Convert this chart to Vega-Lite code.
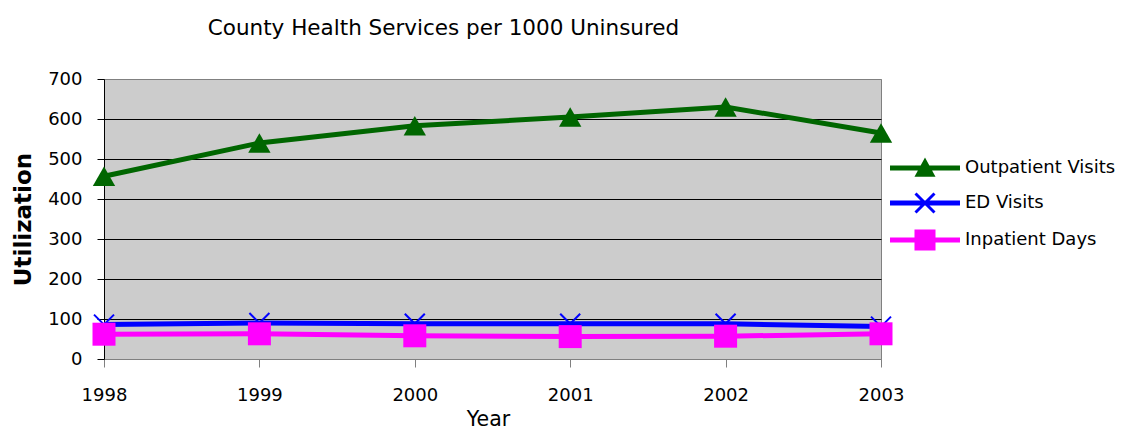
{
  "$schema": "https://vega.github.io/schema/vega-lite/v6.json",
  "width": 777,
  "height": 280,
  "autosize": "none",
  "padding": {"left": 104, "top": 79, "right": 242, "bottom": 70},
  "background": "white",
  "config": {
    "view": {"fill": "#CCCCCC", "stroke": "#808080", "strokeWidth": 1}
  },
  "title": {
    "text": "County Health Services per 1000 Uninsured",
    "font": "DejaVu Sans",
    "fontSize": 21.5,
    "fontWeight": "normal",
    "color": "black",
    "anchor": "middle",
    "frame": "group",
    "dx": -49,
    "baseline": "alphabetic",
    "offset": 14
  },
  "data": {
    "values": [
      {"year": 1998, "series": "Outpatient Visits", "value": 457},
      {"year": 1999, "series": "Outpatient Visits", "value": 540},
      {"year": 2000, "series": "Outpatient Visits", "value": 583},
      {"year": 2001, "series": "Outpatient Visits", "value": 605},
      {"year": 2002, "series": "Outpatient Visits", "value": 630},
      {"year": 2003, "series": "Outpatient Visits", "value": 565},
      {"year": 1998, "series": "ED Visits", "value": 86},
      {"year": 1999, "series": "ED Visits", "value": 90},
      {"year": 2000, "series": "ED Visits", "value": 88},
      {"year": 2001, "series": "ED Visits", "value": 88},
      {"year": 2002, "series": "ED Visits", "value": 88},
      {"year": 2003, "series": "ED Visits", "value": 81},
      {"year": 1998, "series": "Inpatient Days", "value": 62},
      {"year": 1999, "series": "Inpatient Days", "value": 63},
      {"year": 2000, "series": "Inpatient Days", "value": 58},
      {"year": 2001, "series": "Inpatient Days", "value": 56},
      {"year": 2002, "series": "Inpatient Days", "value": 57},
      {"year": 2003, "series": "Inpatient Days", "value": 63}
    ]
  },
  "encoding": {
    "x": {
      "field": "year",
      "type": "quantitative",
      "scale": {"domain": [1998, 2003], "nice": false, "zero": false},
      "axis": {
        "values": [1998, 1999, 2000, 2001, 2002, 2003],
        "format": "d",
        "grid": false,
        "labelFont": "DejaVu Sans",
        "labelFontSize": 18,
        "labelColor": "black",
        "labelPadding": 19,
        "labelFlush": false,
        "tickSize": 8,
        "tickColor": "#808080",
        "domainColor": "#808080",
        "title": "Year",
        "titleFont": "DejaVu Sans",
        "titleFontSize": 20.5,
        "titleFontWeight": "normal",
        "titleColor": "black",
        "titleBaseline": "alphabetic",
        "titleX": 384,
        "titleY": 66
      }
    },
    "y": {
      "field": "value",
      "type": "quantitative",
      "scale": {"domain": [0, 700], "nice": false},
      "axis": {
        "values": [0, 100, 200, 300, 400, 500, 600, 700],
        "grid": true,
        "gridColor": {"condition": {"test": "datum.value === 700 || datum.value === 0", "value": "#808080"}, "value": "black"},
        "gridWidth": 1,
        "gridOpacity": 1,
        "labelFont": "DejaVu Sans",
        "labelFontSize": 18,
        "labelColor": "black",
        "labelPadding": 15,
        "labelFlush": false,
        "tickSize": 7,
        "tickColor": "black",
        "domainColor": "black",
        "title": "Utilization",
        "titleFont": "DejaVu Sans",
        "titleFontSize": 23,
        "titleFontWeight": "bold",
        "titleColor": "black",
        "titleBaseline": "alphabetic",
        "titleX": -74
      }
    },
    "color": {
      "field": "series",
      "type": "nominal",
      "scale": {
        "domain": ["Outpatient Visits", "ED Visits", "Inpatient Days"],
        "range": ["#006600", "#0000FF", "#FF00FF"]
      },
      "legend": null
    }
  },
  "layer": [
    {
      "mark": {"type": "line", "strokeWidth": 5},
      "encoding": {
        "color": {
          "field": "series",
          "type": "nominal",
          "legend": {
            "title": null,
            "orient": "none",
            "legendX": 795,
            "legendY": 63,
            "symbolSize": 2704,
            "rowPadding": 0,
            "labelOffset": 14,
            "labelFont": "DejaVu Sans",
            "labelFontSize": 18,
            "labelColor": "black",
            "labelLimit": 300,
            "encode": {
              "symbols": {
                "update": {
                  "shape": {"signal": "datum.value === 'Outpatient Visits' ? 'M-1.346,-0.096H1.346V0.096H-1.346Z M0,-0.404L0.404,0.337H-0.404Z' : datum.value === 'ED Visits' ? 'M-1.346,-0.096H1.346V0.096H-1.346Z M-0.325,-0.405L0.405,0.325L0.325,0.405L-0.405,-0.325Z M0.405,-0.325L-0.325,0.405L-0.405,0.325L0.325,-0.405Z' : 'M-1.346,-0.096H1.346V0.096H-1.346Z M-0.404,-0.404H0.404V0.404H-0.404Z'"},
                  "fill": {"signal": "scale('color', datum.value)"},
                  "fillOpacity": {"value": 1},
                  "stroke": {"value": "transparent"},
                  "strokeWidth": {"value": 0}
                }
              }
            }
          }
        }
      }
    },
    {
      "transform": [{"filter": "datum.series === 'ED Visits'"}],
      "mark": {"type": "point", "filled": false, "strokeWidth": 2, "size": 400, "opacity": 1, "shape": "M-1,-1L1,1M1,-1L-1,1"}
    },
    {
      "transform": [{"filter": "datum.series === 'Outpatient Visits'"}],
      "mark": {"type": "point", "filled": true, "opacity": 1, "strokeWidth": 0, "shape": "triangle-up", "size": 500}
    },
    {
      "transform": [{"filter": "datum.series === 'Inpatient Days'"}],
      "mark": {"type": "point", "filled": true, "opacity": 1, "strokeWidth": 0, "shape": "square", "size": 529}
    }
  ]
}
